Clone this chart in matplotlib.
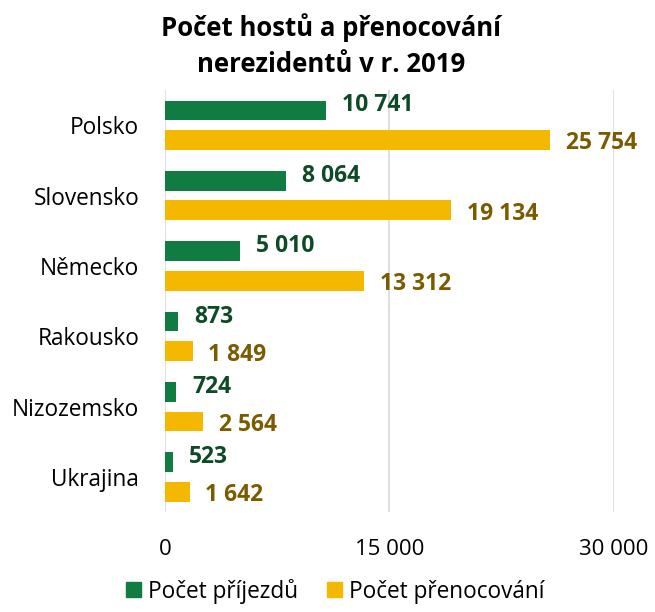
import matplotlib
matplotlib.use("Agg")
import matplotlib.pyplot as plt
import numpy as np

plt.rcParams["font.family"] = ["Open Sans", "DejaVu Sans"]

countries = ["Polsko", "Slovensko", "Německo", "Rakousko", "Nizozemsko", "Ukrajina"]
arrivals = [10741, 8064, 5010, 873, 724, 523]
nights = [25754, 19134, 13312, 1849, 2564, 1642]
ticks = [0, 15000, 30000]
tick_labels = ["0", "15 000", "30 000"]

GREEN = "#107C41"
YELLOW = "#F5B800"
GREEN_TXT = "#0E4A26"
YELLOW_TXT = "#7A5B00"


def fmt(v):
    return f"{v:,}".replace(",", " ")


fig = plt.figure(figsize=(6.55, 6.12), dpi=100)
ax = fig.add_axes([0.252, 0.163, 0.685, 0.690])

y = np.arange(len(countries))
h = 0.28
off = 0.21
ax.barh(y - off, arrivals, height=h, color=GREEN, zorder=3)
ax.barh(y + off, nights, height=h, color=YELLOW, zorder=3)

for yi, a, n in zip(y, arrivals, nights):
    ax.text(a + 1100, yi - off - 0.07, fmt(a), va="center", ha="left",
            fontsize=16.5, fontweight="bold", color=GREEN_TXT)
    ax.text(n + 1050, yi + off + 0.05, fmt(n), va="center", ha="left",
            fontsize=16.5, fontweight="bold", color=YELLOW_TXT)

ax.set_xlim(0, 30000)
ax.set_ylim(len(countries) - 0.5, -0.5)
ax.set_yticks(y)
ax.set_yticklabels(countries, fontsize=16.3)
ax.set_xticks(ticks)
ax.set_xticklabels(tick_labels, fontsize=16)
ax.tick_params(length=0)
ax.tick_params(axis="y", pad=18.5)
ax.tick_params(axis="x", pad=19)
ax.xaxis.grid(True, color="#D9D9D9", linewidth=1.2, zorder=0)
for s in ax.spines.values():
    s.set_visible(False)

fig.suptitle("Počet hostů a přenocování\nnerezidentů v r. 2019", x=0.505, y=0.978,
             fontsize=18.5, fontweight="bold", linespacing=1.4)

handles = [plt.Rectangle((0, 0), 1, 1, color=GREEN), plt.Rectangle((0, 0), 1, 1, color=YELLOW)]
fig.legend(handles, ["Počet příjezdů", "Počet přenocování"], loc="lower center",
           bbox_to_anchor=(0.512, -0.02), ncol=2, frameon=False, fontsize=16.3,
           handlelength=0.65, handleheight=0.65, handletextpad=0.3, columnspacing=1.3)

fig.savefig("out.png", dpi=100)
